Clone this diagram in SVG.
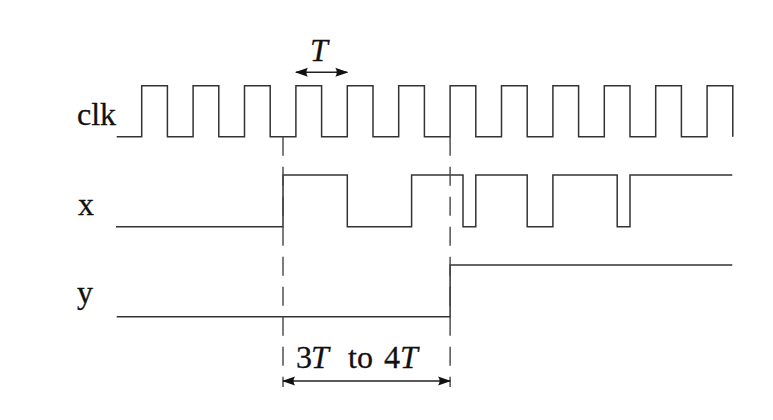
<svg xmlns="http://www.w3.org/2000/svg" width="773" height="420" viewBox="0 0 773 420">
  <style>
    .sig { fill: none; stroke: #333; stroke-width: 1.5; stroke-linejoin: miter; }
    .dash { fill: none; stroke: #444; stroke-width: 1.4; stroke-dasharray: 19 11; }
    .arr { fill: none; stroke: #222; stroke-width: 1.5; marker-start: url(#ah); marker-end: url(#ah); }
    .lbl { font-family: "Liberation Serif", "DejaVu Serif", serif; font-size: 32px; fill: #111; stroke: #111; stroke-width: 0.3; }
    .it { font-style: italic; }
  </style>
  <defs>
    <marker id="ah" viewBox="0 0 13 10" refX="12" refY="5" markerWidth="13" markerHeight="10" markerUnits="userSpaceOnUse" orient="auto-start-reverse">
      <path d="M0,0.5 L13,5 L0,9.5 Q3,5 0,0.5 z" fill="#111"/>
    </marker>
  </defs>
  <rect width="773" height="420" fill="#fff"/>

  <g id="labels">
    <text class="lbl" x="77" y="125">clk</text>
    <text class="lbl" x="78" y="215">x</text>
    <text class="lbl" x="77" y="303">y</text>
  </g>

  <g id="clk">
    <path class="sig" d="M116.7 136.7 H141.7 V85.7 H167.4 V136.7 H193.1 V85.7 H218.8 V136.7 H244.5 V85.7 H270.2 V136.7 H295.9 V85.7 H321.6 V136.7 H347.3 V85.7 H373 V136.7 H398.7 V85.7 H424.4 V136.7 H450.1 V85.7 H475.8 V136.7 H501.5 V85.7 H527.2 V136.7 H552.9 V85.7 H578.6 V136.7 H604.3 V85.7 H630 V136.7 H655.7 V85.7 H681.4 V136.7 H707.1 V85.7 H732.8 V136.7"/>
  </g>

  <g id="x">
    <path class="sig" d="M116 226.7 H283 V175 H347.3 V226.7 H411.6 V175 H463 V226.7 H475.8 V175 H527.2 V226.7 H552.9 V175 H617.2 V226.7 H630 V175 H732.3"/>
  </g>

  <g id="y">
    <path class="sig" d="M116.7 316.7 H450.1 V265 H732.3"/>
  </g>

  <g id="connectors">
    <line class="dash" x1="283" y1="136.7" x2="283" y2="387"/>
    <line class="dash" x1="450.1" y1="136.7" x2="450.1" y2="387"/>
    <line class="arr" x1="295.9" y1="72.3" x2="347.3" y2="72.3"/>
    <line class="arr" x1="283" y1="381" x2="450.1" y2="381"/>
  </g>

  <g id="annotations">
    <text class="lbl it" x="310" y="61">T</text>
    <text class="lbl" y="368"><tspan x="296">3</tspan><tspan class="it" x="311">T</tspan><tspan x="348">to</tspan><tspan x="384">4</tspan><tspan class="it" x="400">T</tspan></text>
  </g>
</svg>
